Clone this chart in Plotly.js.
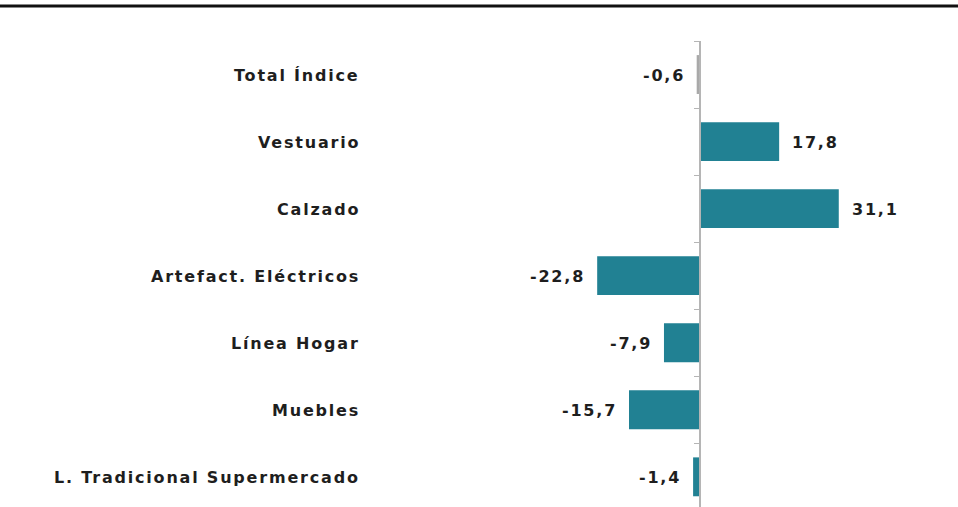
<!DOCTYPE html>
<html>
<head>
<meta charset="utf-8">
<script src="https://cdn.plot.ly/plotly-3.0.1.min.js"></script>
<style>
html,body{margin:0;padding:0;background:#fff;}
#chart{width:958px;height:507px;}
text.annotation-text{letter-spacing:1.8px;}
</style>
</head>
<body>
<div id="chart"></div>
<script>
const categories = ["Total Índice", "Vestuario", "Calzado", "Artefact. Eléctricos", "Línea Hogar", "Muebles", "L. Tradicional Supermercado"];
const values = [-0.6, 17.8, 31.1, -22.8, -7.9, -15.7, -1.4];
const barColors = ["#a9a9a9", "#218193", "#218193", "#218193", "#218193", "#218193", "#218193"];

const FONT = "DejaVu Sans, Verdana, sans-serif";
const TXT = "#1e1e1e";

function fmt(v) { return v.toFixed(1).replace(".", ","); }

const trace = {
  type: "bar",
  orientation: "h",
  y: categories,
  x: values,
  width: 0.58,
  marker: { color: barColors, line: { width: 0 } },
  hoverinfo: "skip"
};

const annotations = [];
categories.forEach(function (c, i) {
  annotations.push({
    xref: "paper", yref: "y", x: 0, y: c,
    xanchor: "right", yanchor: "middle", xshift: -3, yshift: -1,
    text: "<b>" + c + "</b>", showarrow: false,
    font: { family: FONT, size: 16, color: TXT }
  });
  const v = values[i];
  annotations.push({
    xref: "x", yref: "y", x: v, y: c,
    xanchor: v >= 0 ? "left" : "right", yanchor: "middle",
    xshift: v >= 0 ? 11 : -10, yshift: -1,
    text: "<b>" + fmt(v) + "</b>", showarrow: false,
    font: { family: FONT, size: 16, color: TXT }
  });
});

const xmin = -74.6, xmax = 57.7;
const zeroPos = (0 - xmin) / (xmax - xmin);

const layout = {
  width: 958, height: 507,
  margin: { l: 365, r: 0, t: 41, b: 0 },
  paper_bgcolor: "#ffffff", plot_bgcolor: "#ffffff",
  showlegend: false,
  xaxis: { range: [xmin, xmax], visible: false, showgrid: false, zeroline: false, fixedrange: true },
  yaxis: {
    type: "category", range: [6.45, -0.5], autorange: false,
    anchor: "free", position: zeroPos,
    showline: true, linecolor: "#b5b5b5", linewidth: 1.5,
    ticks: "outside", tickson: "boundaries", ticklen: 5, tickcolor: "#b5b5b5", tickwidth: 1,
    showticklabels: false, showgrid: false, zeroline: false, fixedrange: true
  },
  annotations: annotations,
  shapes: [{
    type: "line", xref: "paper", yref: "paper",
    x0: -0.62, x1: 1.01, y0: 1.075, y1: 1.075,
    line: { color: "#111111", width: 3 }
  }]
};

Plotly.newPlot("chart", [trace], layout, { staticPlot: true, displayModeBar: false });
</script>
</body>
</html>
